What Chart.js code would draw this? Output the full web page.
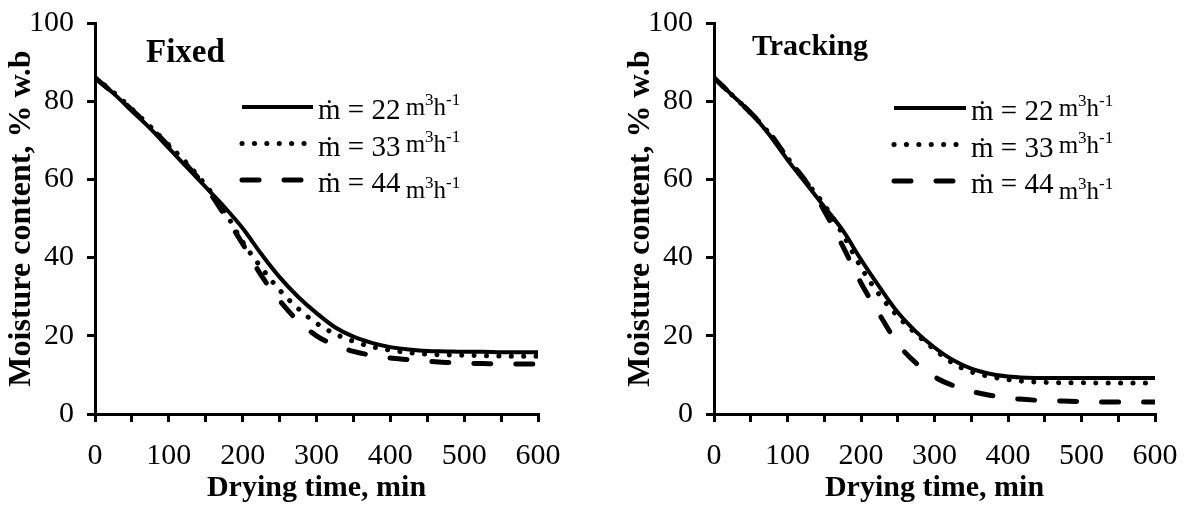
<!DOCTYPE html>
<html>
<head>
<meta charset="utf-8">
<script src="https://cdn.jsdelivr.net/npm/chart.js@4/dist/chart.umd.min.js"></script>
<style>
  body { margin: 0; background: #fff; }
  .box { position: absolute; top: 0; height: 506px; }
  #leftBox { left: 0; width: 592px; }
  #rightBox { left: 619px; width: 565px; }
</style>
</head>
<body>
<div class="box" id="leftBox"><canvas id="fixedChart"></canvas></div>
<div class="box" id="rightBox"><canvas id="trackingChart"></canvas></div>
<script>
// drying time, min
const time = [0, 25, 50, 75, 100, 125, 150, 175, 200, 225, 250, 275, 300,
  325, 350, 375, 400, 425, 450, 475, 500, 525, 550, 575, 600];

// moisture content, % w.b  (fixed collector)
const fixed22 = [86, 82, 77.5, 73, 68, 63, 58, 53, 47.5, 41, 35, 30, 25.8,
  22.2, 19.8, 18.2, 17.1, 16.5, 16.1, 16, 15.9, 15.9, 15.8, 15.8, 15.8];
const fixed33 = [86, 82.3, 78, 73.5, 68.8, 64, 58.5, 52, 44, 37.5, 31.7, 27, 23.2,
  20.5, 18.6, 17.2, 16.3, 15.7, 15.3, 15.1, 15, 14.9, 14.8, 14.8, 14.8];
const fixed44 = [86, 82, 77.8, 73.3, 68.5, 63.5, 58, 51, 43.5, 35.5, 29, 23.8, 20,
  17.6, 16, 15, 14.3, 13.9, 13.5, 13.2, 13, 12.9, 12.8, 12.8, 12.8];

// moisture content, % w.b  (tracking collector)
const track22 = [86, 81.5, 77, 71.5, 65, 59, 53, 47, 39.5, 32.5, 26, 21, 17,
  13.8, 11.6, 10.3, 9.6, 9.3, 9.2, 9.2, 9.2, 9.2, 9.2, 9.2, 9.2];
const track33 = [86, 81.5, 77, 71.8, 65.5, 59.5, 53.5, 46, 37.5, 30.5, 25, 20.5, 16.5,
  13, 10.8, 9.6, 8.8, 8.3, 8.1, 8, 8, 7.9, 7.9, 7.9, 7.9];
const track44 = [86, 81.5, 77, 72, 65.5, 59.5, 52, 43, 33.5, 25.5, 18, 13, 9.5,
  7.3, 5.8, 4.8, 4.1, 3.7, 3.4, 3.3, 3.2, 3.1, 3.1, 3.1, 3.1];

const flowRates = ["22", "33", "44"];
const xTicks = [0, 100, 200, 300, 400, 500, 600];
const yTicks = [0, 20, 40, 60, 80, 100];

const serif = "'Liberation Serif', 'Times New Roman', serif";
Chart.defaults.font.family = serif;
Chart.defaults.color = "#000";

function pts(ys) {
  return time.map((t, i) => ({ x: t, y: ys[i] }));
}

// line styles for 22 / 33 / 44
const styles = [
  { borderWidth: 4, borderDash: [], borderCapStyle: "butt" },
  { borderWidth: 5, borderDash: [0.1, 12.3], borderCapStyle: "round" },
  { borderWidth: 5, borderDash: [17, 25], borderCapStyle: "round" }
];

// legend + panel label drawn inside the plot
const insideText = {
  id: "insideText",
  afterDraw(chart, args, opts) {
    const c = chart.ctx;
    c.save();
    c.fillStyle = "#000";
    c.textBaseline = "alphabetic";
    c.font = "bold " + opts.titleSize + "px " + serif;
    c.fillText(opts.title, opts.titleX, opts.titleY);

    chart.data.datasets.forEach((ds, i) => {
      const y = opts.legendY + i * opts.rowGap;
      c.beginPath();
      c.strokeStyle = "#000";
      c.lineWidth = ds.borderWidth;
      c.lineCap = ds.borderCapStyle;
      c.setLineDash(ds.borderDash);
      c.moveTo(opts.legendX, y);
      c.lineTo(opts.legendX + opts.sampleLen, y);
      c.stroke();
      c.setLineDash([]);

      let x = opts.legendX + opts.sampleLen + 5;
      const base = y + 12;
      c.font = "29px " + serif;
      const main = "\u1E41 = " + flowRates[i] + " ";
      c.fillText(main, x, base);
      x += c.measureText(main).width - 2;
      const shift = i === 2 ? 6 : -4;
      c.font = "25px " + serif;
      c.fillText("m", x, base + shift);
      x += c.measureText("m").width;
      c.font = "17px " + serif;
      c.fillText("3", x, base + shift - 10);
      x += c.measureText("3").width;
      c.font = "25px " + serif;
      c.fillText("h", x, base + shift);
      x += c.measureText("h").width;
      c.font = "17px " + serif;
      c.fillText("-1", x, base + shift - 10);
    });
    c.restore();
  }
};

function makeChart(id, series, label, rightPad) {
  const datasets = series.map((s, i) => Object.assign({
    label: "\u1E41 = " + flowRates[i] + " m3h-1",
    data: pts(s),
    borderColor: "#000",
    pointRadius: 0,
    fill: false,
    cubicInterpolationMode: "monotone"
  }, styles[i]));

  return new Chart(document.getElementById(id), {
    type: "line",
    data: { datasets },
    plugins: [insideText],
    options: {
      responsive: true,
      maintainAspectRatio: false,
      animation: false,
      layout: { padding: { top: 23, right: rightPad, bottom: 0, left: 0 } },
      plugins: {
        legend: { display: false },
        tooltip: { enabled: false },
        insideText: label
      },
      scales: {
        x: {
          type: "linear",
          min: 0, max: 600,
          border: { color: "#000", width: 3 },
          grid: { drawOnChartArea: false, color: "#000", lineWidth: 3, tickLength: 8 },
          ticks: {
            stepSize: 50,
            autoSkip: false,
            maxRotation: 0,
            padding: 16,
            font: { size: 30 },
            callback: v => xTicks.includes(v) ? String(v) : ""
          },
          title: {
            display: true,
            text: "Drying time, min",
            font: { size: 30, weight: "bold" },
            padding: { top: 0, bottom: 0 }
          },
          afterFit: s => { s.height = 92; s.paddingLeft = 0; s.paddingRight = 0; }
        },
        y: {
          min: 0, max: 100,
          border: { color: "#000", width: 3 },
          grid: { drawOnChartArea: false, color: "#000", lineWidth: 3, tickLength: 8 },
          ticks: {
            stepSize: 20,
            padding: 13,
            font: { size: 30 },
            callback: v => yTicks.includes(v) ? String(v) : ""
          },
          title: {
            display: true,
            text: "Moisture content, % w.b",
            font: { size: 32, weight: "bold" },
            padding: { top: 3, bottom: 0 }
          },
          afterFit: s => { s.width = 95; s.paddingTop = 0; s.paddingBottom = 0; }
        }
      }
    }
  });
}

makeChart("fixedChart", [fixed22, fixed33, fixed44],
  { title: "Fixed", titleSize: 33, titleX: 146, titleY: 62, legendX: 242, legendY: 107, rowGap: 36.5, sampleLen: 71 }, 54);
makeChart("trackingChart", [track22, track33, track44],
  { title: "Tracking", titleSize: 30, titleX: 133, titleY: 55, legendX: 275, legendY: 108, rowGap: 36.5, sampleLen: 72 }, 29);
</script>
</body>
</html>
